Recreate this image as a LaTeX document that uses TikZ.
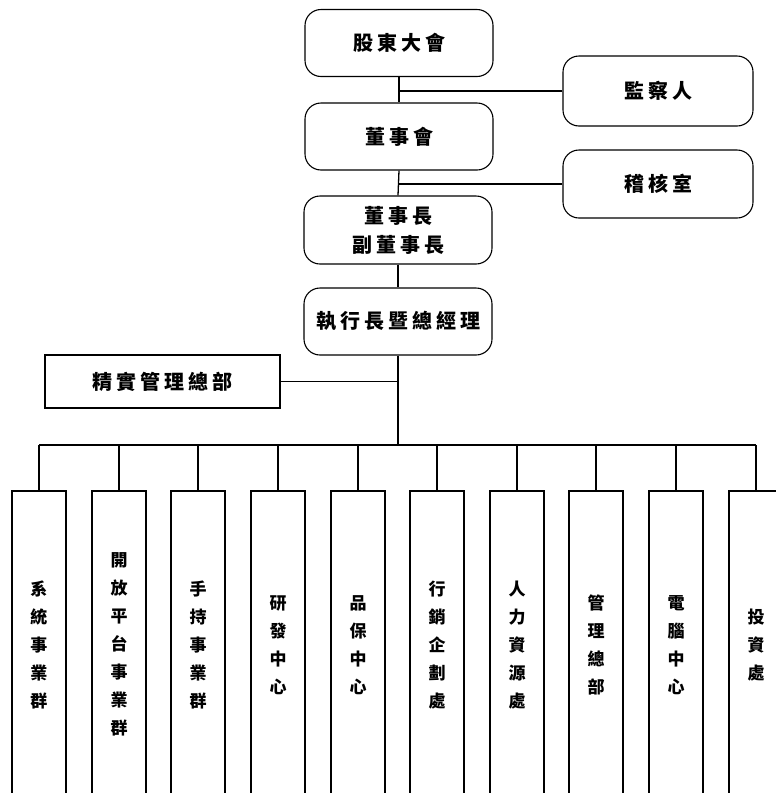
\documentclass[tikz,border=0pt]{standalone}
\usepackage{fontspec}
\newfontfamily\cjk{Noto Sans CJK TC}
\newcommand\gp{\hspace{4pt}}
\begin{document}
\begin{tikzpicture}[x=1pt,y=-1pt,
  rbox/.style={draw, rounded corners=16pt, line width=1.1pt, minimum width=188pt, minimum height=67pt,
    font=\cjk\bfseries\fontsize{20}{29}\selectfont, align=center, inner sep=0pt},
  sbox/.style={draw, line width=1.5pt, minimum width=235pt, minimum height=53pt,
    font=\cjk\bfseries\fontsize{20}{29}\selectfont, align=center, inner sep=0pt},
  vbox/.style={draw, line width=1.5pt, minimum width=54pt, minimum height=308pt, anchor=north,
    font=\cjk\bfseries\fontsize{17}{28}\selectfont, align=center, inner sep=0pt},
  conn/.style={line width=1.3pt}]
\clip (0,0) rectangle (776,793);
\useasboundingbox (0,0) rectangle (776,793);
\fill[white] (0,0) rectangle (776,793);
% upper chain
\node[rbox] (sh)  at (399,43)    {股\gp 東\gp 大\gp 會};
\node[rbox, minimum width=190pt, minimum height=70pt] (jc) at (658,91) {監\gp 察\gp 人};
\node[rbox] (bd)  at (399,136.5) {董\gp 事\gp 會};
\node[rbox, minimum width=190pt, minimum height=68pt] (ac) at (658,184) {稽\gp 核\gp 室};
\node[rbox, minimum height=68pt] (ch) at (398,230) {董\gp 事\gp 長\\副\gp 董\gp 事\gp 長};
\node[rbox] (ceo) at (398,321.5) {執\gp 行\gp 長\gp 暨\gp 總\gp 經\gp 理};
\node[sbox] (lean) at (162.5,381.5) {精\gp 實\gp 管\gp 理\gp 總\gp 部};
\coordinate (bus) at (398,445);
% lower boxes
\node[vbox] (b1)  at (39,490)  {系\\統\\事\\業\\群};
\node[vbox] (b2)  at (119,490) {開\\放\\平\\台\\事\\業\\群};
\node[vbox] (b3)  at (198,490) {手\\持\\事\\業\\群};
\node[vbox] (b4)  at (278,490) {研\\發\\中\\心};
\node[vbox] (b5)  at (358,490) {品\\保\\中\\心};
\node[vbox] (b6)  at (437,490) {行\\銷\\企\\劃\\處};
\node[vbox] (b7)  at (517,490) {人\\力\\資\\源\\處};
\node[vbox] (b8)  at (596,490) {管\\理\\總\\部};
\node[vbox] (b9)  at (676,490) {電\\腦\\中\\心};
\node[vbox] (b10) at (756,490) {投\\資\\處};
% connectors
\draw[conn] (sh.south) -- (bd.north);
\draw[conn] (bd.south) -- (ch.north);
\draw[conn] (ch.south) -- (ceo.north);
\draw[conn] (ceo.south) -- (bus);
\draw[conn] (jc.west) -- (jc.west -| sh.south);
\draw[conn] (ac.west) -- (ac.west -| bd.south);
\draw[conn] (lean.east) -- (lean.east -| ceo.south);
\draw[conn] (b1.north |- bus) -- (b10.north |- bus);
\foreach \b in {b1,b2,b3,b4,b5,b6,b7,b8,b9,b10}
  \draw[conn] (\b.north) -- (\b.north |- bus);
\end{tikzpicture}
\end{document}
